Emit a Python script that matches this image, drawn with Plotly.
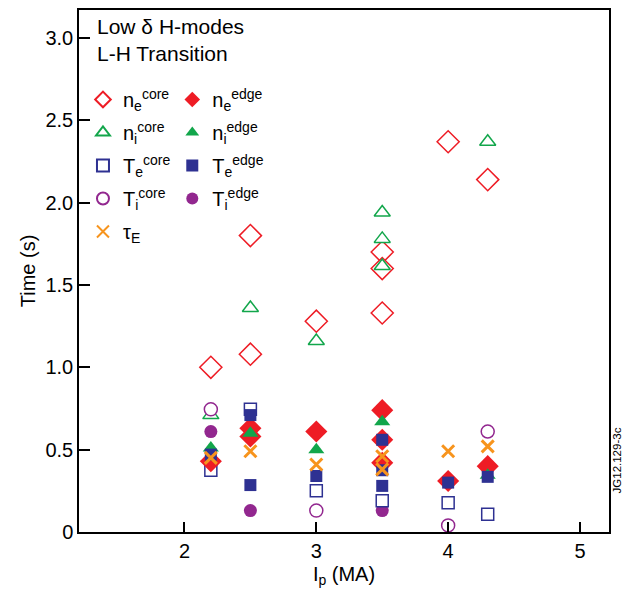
import plotly.graph_objects as go

# ---- data ----
ne_core_x = [2.2, 2.5, 2.5, 3.0, 3.5, 3.5, 3.5, 4.0, 4.3]
ne_core_y = [1.00, 1.80, 1.08, 1.28, 1.70, 1.60, 1.33, 2.37, 2.14]

ni_core_x = [2.2, 2.5, 3.0, 3.5, 3.5, 3.5, 4.3]
ni_core_y = [0.71, 1.36, 1.16, 1.94, 1.78, 1.615, 2.37]

Te_core_x = [2.2, 2.5, 3.0, 3.5, 4.0, 4.3]
Te_core_y = [0.375, 0.745, 0.25, 0.19, 0.177, 0.108]

Ti_core_x = [2.2, 3.0, 3.5, 4.0, 4.3]
Ti_core_y = [0.745, 0.13, 0.74, 0.04, 0.61]

ne_edge_x = [2.2, 2.5, 2.5, 3.0, 3.5, 3.5, 3.5, 4.0, 4.3]
ne_edge_y = [0.43, 0.63, 0.58, 0.61, 0.74, 0.56, 0.42, 0.31, 0.40]

ni_edge_x = [2.2, 2.5, 3.0, 3.5, 4.3]
ni_edge_y = [0.51, 0.60, 0.50, 0.67, 0.345]

Te_edge_x = [2.2, 2.5, 2.5, 3.0, 3.5, 3.5, 3.5, 4.0, 4.3]
Te_edge_y = [0.47, 0.71, 0.285, 0.34, 0.56, 0.375, 0.28, 0.30, 0.335]

Ti_edge_x = [2.2, 2.5, 3.5]
Ti_edge_y = [0.61, 0.13, 0.13]

tauE_x = [2.2, 2.5, 3.0, 3.5, 3.5, 4.0, 4.3]
tauE_y = [0.45, 0.49, 0.41, 0.46, 0.38, 0.49, 0.52]

y_tickvals = [0, 0.5, 1.0, 1.5, 2.0, 2.5, 3.0]
y_ticktext = ["0", "0.5", "1.0", "1.5", "2.0", "2.5", "3.0"]
x_tickvals = [2, 3, 4, 5]

RED = "#ee1c25"
GREEN = "#12a64b"
NAVY = "#2e3192"
PURPLE = "#92278f"
ORANGE = "#f7941d"
FONT = "Liberation Sans, Arial, sans-serif"

fig = go.Figure()


def add(x, y, name, symbol, color, size, open_=False, legend="legend", lw=1.5):
    if open_:
        marker = dict(symbol=symbol, size=size, color="white",
                      line=dict(color=color, width=lw))
    elif symbol == "x-thin":
        marker = dict(symbol=symbol, size=size, color=color,
                      line=dict(color=color, width=3))
    else:
        marker = dict(symbol=symbol, size=size, color=color,
                      line=dict(width=0))
    fig.add_trace(go.Scatter(x=x, y=y, mode="markers", name=name,
                             legendgroup=name, legend=legend, marker=marker))


# draw order chosen to match overlaps in the reference
add(Ti_edge_x, Ti_edge_y, "T<sub>i</sub><sup>edge</sup>", "circle", PURPLE, 13, legend="legend2")
add(ne_core_x, ne_core_y, "n<sub>e</sub><sup>core</sup>", "diamond", RED, 17, open_=True)
add(ni_core_x, ni_core_y, "n<sub>i</sub><sup>core</sup>", "triangle-up", GREEN, 14, open_=True)
add(Ti_core_x, Ti_core_y, "T<sub>i</sub><sup>core</sup>", "circle", PURPLE, 13, open_=True)
add(Te_core_x, Te_core_y, "T<sub>e</sub><sup>core</sup>", "square", NAVY, 12, open_=True)
add(ne_edge_x, ne_edge_y, "n<sub>e</sub><sup>edge</sup>", "diamond", RED, 17, legend="legend2")
add(ni_edge_x, ni_edge_y, "n<sub>i</sub><sup>edge</sup>", "triangle-up", GREEN, 14, legend="legend2")
add(Te_edge_x, Te_edge_y, "T<sub>e</sub><sup>edge</sup>", "square", NAVY, 12, legend="legend2")
add(tauE_x, tauE_y, "τ<sub>E</sub>", "x-thin", ORANGE, 12)

# legend ordering within each column
order1 = ["n<sub>e</sub><sup>core</sup>", "n<sub>i</sub><sup>core</sup>",
          "T<sub>e</sub><sup>core</sup>", "T<sub>i</sub><sup>core</sup>", "τ<sub>E</sub>"]
order2 = ["n<sub>e</sub><sup>edge</sup>", "n<sub>i</sub><sup>edge</sup>",
          "T<sub>e</sub><sup>edge</sup>", "T<sub>i</sub><sup>edge</sup>"]
for tr in fig.data:
    if tr.name in order1:
        tr.legendrank = order1.index(tr.name) + 1
    else:
        tr.legendrank = order2.index(tr.name) + 1

legend_common = dict(
    xanchor="left", yanchor="top", bgcolor="rgba(0,0,0,0)",
    font=dict(family=FONT, size=20, color="black"),
    itemsizing="constant", traceorder="grouped", tracegroupgap=4,
    borderwidth=0,
)

# page body has an 8px margin, so the figure is 8px smaller than the window
fig.update_layout(
    width=625, height=584,
    margin=dict(l=71, r=24, t=0, b=60),
    paper_bgcolor="white", plot_bgcolor="white",
    font=dict(family=FONT, size=20, color="black"),
    showlegend=True,
    legend=dict(x=0.0075, y=0.866, **legend_common),
    legend2=dict(x=0.176, y=0.866, **legend_common),
    xaxis=dict(
        range=[1.2, 5.22], tickvals=x_tickvals, ticks="inside", ticklen=10,
        tickwidth=1.5, tickcolor="black", showline=True, linecolor="black",
        linewidth=1.5, mirror=True, showgrid=False, zeroline=False,
        tickfont=dict(family=FONT, size=20, color="black"),
        title=dict(text="I<sub>p</sub> (MA)", standoff=6,
                   font=dict(family=FONT, size=20, color="black")),
    ),
    yaxis=dict(
        range=[0, 3.17], tickvals=y_tickvals, ticktext=y_ticktext,
        ticks="inside", ticklen=11, tickwidth=1.5, tickcolor="black",
        showline=True, linecolor="black", linewidth=1.5, mirror=True,
        showgrid=False, zeroline=False,
        tickfont=dict(family=FONT, size=20, color="black"),
        title=dict(text="Time (s)", standoff=4,
                   font=dict(family=FONT, size=20, color="black")),
    ),
    annotations=[
        dict(text="Low δ H-modes<br>L-H Transition", xref="paper", yref="paper",
             x=0.03, y=0.995, xanchor="left", yanchor="top", align="left",
             showarrow=False, font=dict(family=FONT, size=21, color="black")),
        dict(text="JG12.129-3c", xref="paper", yref="paper",
             x=1.0, xshift=16, y=0.07, textangle=-90, showarrow=False,
             font=dict(family=FONT, size=11.5, color="black")),
    ],
)

fig.write_html("out.html")
